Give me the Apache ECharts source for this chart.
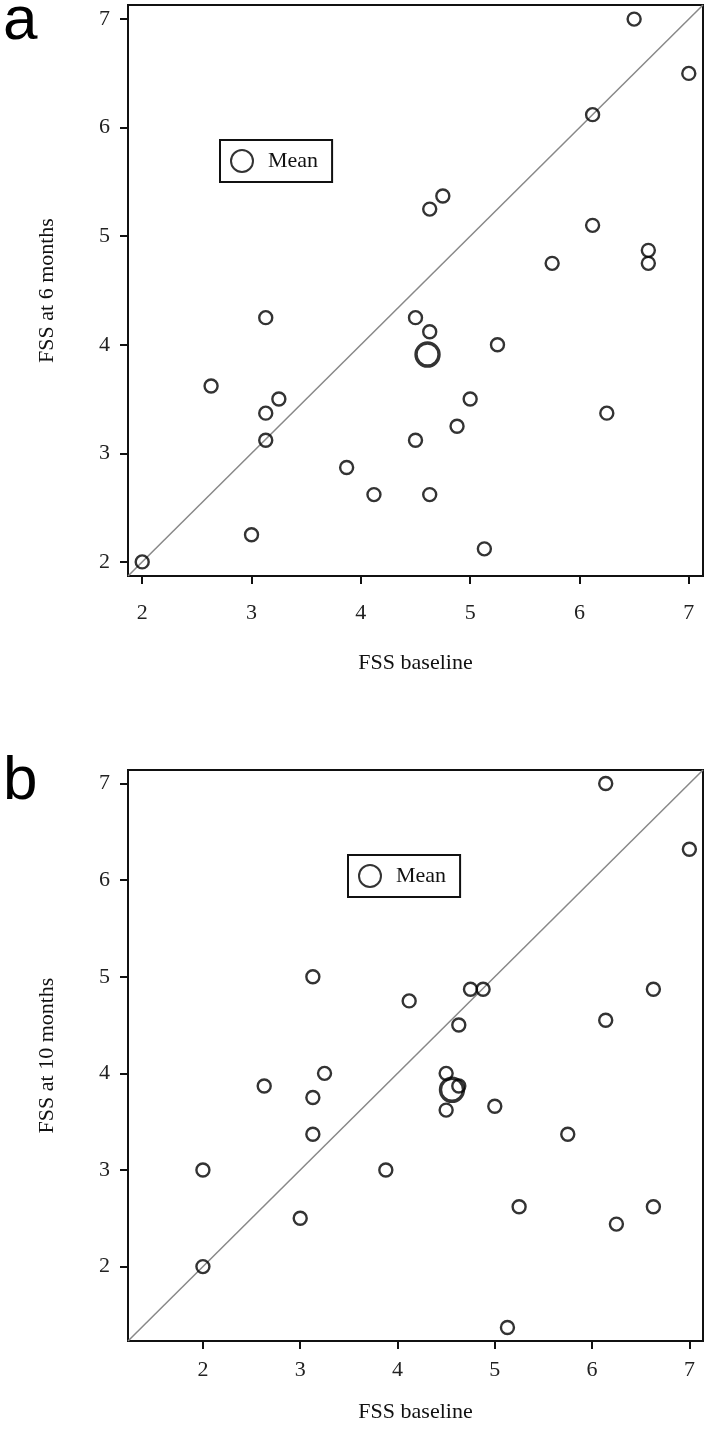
<!DOCTYPE html>
<html>
<head>
<meta charset="utf-8">
<script src="https://cdn.jsdelivr.net/npm/echarts@6/dist/echarts.min.js"></script>
<style>
  html, body { margin: 0; padding: 0; background: #fff; }
  #chart { width: 707px; height: 1448px; }
</style>
</head>
<body>
<div id="chart"></div>
<script>
// panel a: baseline vs 6 months
var baselineA = [2.0, 2.63, 3.13, 3.25, 3.13, 3.13, 3.0, 3.87, 4.12, 4.63, 4.5, 4.63, 5.25, 5.0, 4.88, 4.5, 5.13, 6.25, 6.5, 7.0, 6.12, 4.63, 4.75, 6.12, 5.75, 6.63, 6.63];
var month6 = [2.0, 3.62, 4.25, 3.5, 3.37, 3.12, 2.25, 2.87, 2.62, 2.62, 4.25, 4.12, 4.0, 3.5, 3.25, 3.12, 2.12, 3.37, 7.0, 6.5, 6.12, 5.25, 5.37, 5.1, 4.75, 4.87, 4.75];
var meanA = [4.61, 3.91];

// panel b: baseline vs 10 months
var baselineB = [6.14, 7.0, 3.13, 4.12, 4.75, 4.88, 4.63, 6.14, 6.63, 2.0, 2.0, 3.0, 3.13, 3.13, 2.63, 3.25, 3.88, 4.5, 4.63, 4.5, 5.0, 5.75, 5.25, 6.25, 6.63, 5.13];
var month10 = [7.0, 6.32, 5.0, 4.75, 4.87, 4.87, 4.5, 4.55, 4.87, 2.0, 3.0, 2.5, 3.37, 3.75, 3.87, 4.0, 3.0, 4.0, 3.87, 3.62, 3.66, 3.37, 2.62, 2.44, 2.62, 1.37];
var meanB = [4.56, 3.83];

var ticks = [2, 3, 4, 5, 6, 7];
var rangeA = [1.87, 7.13];
var rangeB = [1.23, 7.14];

function pairs(xs, ys) {
    var out = [];
    for (var i = 0; i < xs.length; i++) out.push([xs[i], ys[i]]);
    return out;
}

var serif = 'Liberation Serif';

function makeX(grid, range, margin, gap) {
    return {
        type: 'value', gridIndex: grid, min: range[0], max: range[1],
        name: 'FSS baseline', nameLocation: 'middle', nameGap: gap,
        nameTextStyle: { fontFamily: serif, fontSize: 22, color: '#111' },
        axisLine: { show: true, lineStyle: { color: '#111', width: 2 } },
        axisTick: { show: true, length: 8, customValues: ticks, lineStyle: { color: '#111', width: 2 } },
        axisLabel: { customValues: ticks, margin: margin, fontFamily: serif, fontSize: 22, color: '#222' },
        splitLine: { show: false }
    };
}
function makeY(grid, range, title) {
    return {
        type: 'value', gridIndex: grid, min: range[0], max: range[1],
        name: title, nameLocation: 'middle', nameGap: 70,
        nameTextStyle: { fontFamily: serif, fontSize: 22, color: '#111' },
        axisLine: { show: true, lineStyle: { color: '#111', width: 2 } },
        axisTick: { show: true, length: 8, customValues: ticks, lineStyle: { color: '#111', width: 2 } },
        axisLabel: { customValues: ticks, margin: 18, fontFamily: serif, fontSize: 22, color: '#222' },
        splitLine: { show: false }
    };
}

// hollow rings, so overlapping marks stay visible
var dot = { color: 'rgba(255,255,255,0)', borderColor: '#000', borderWidth: 2.4 };
var bigDot = { color: 'rgba(255,255,255,0)', borderColor: '#000', borderWidth: 3.4 };
var diag = { color: '#888', width: 1.5 };

function meanLegend(left, top) {
    return {
        data: ['Mean'], left: left, top: top, orient: 'vertical', icon: 'circle',
        itemWidth: 22, itemHeight: 22, itemGap: 0, padding: [9, 14, 9, 10],
        borderColor: '#111', borderWidth: 2, selectedMode: false,
        textStyle: { fontFamily: serif, fontSize: 22, color: '#111', padding: [0, 0, 0, 10] }
    };
}

var myChart = echarts.init(document.getElementById('chart'), null, { renderer: 'canvas' });
var option = {
    animation: false,
    backgroundColor: '#fff',
    title: [
        { text: 'a', left: -2, top: -14, textStyle: { fontFamily: 'Liberation Sans', fontSize: 62, fontWeight: 'normal', color: '#000' } },
        { text: 'b', left: -2, top: 746, textStyle: { fontFamily: 'Liberation Sans', fontSize: 62, fontWeight: 'normal', color: '#000' } }
    ],
    grid: [
        { left: 128, top: 5, width: 575, height: 571, show: true, borderColor: '#111', borderWidth: 2, backgroundColor: 'transparent' },
        { left: 128, top: 770, width: 575, height: 571, show: true, borderColor: '#111', borderWidth: 2, backgroundColor: 'transparent' }
    ],
    legend: [meanLegend(220, 140), meanLegend(348, 855)],
    xAxis: [makeX(0, rangeA, 26, 76), makeX(1, rangeB, 18, 60)],
    yAxis: [makeY(0, rangeA, 'FSS at 6 months'), makeY(1, rangeB, 'FSS at 10 months')],
    series: [
        { type: 'line', xAxisIndex: 0, yAxisIndex: 0, data: [[rangeA[0], rangeA[0]], [rangeA[1], rangeA[1]]], showSymbol: false, lineStyle: diag, silent: true, z: 1 },
        { type: 'scatter', xAxisIndex: 0, yAxisIndex: 0, data: pairs(baselineA, month6), symbolSize: 13, itemStyle: dot, z: 3 },
        { name: 'Mean', type: 'scatter', xAxisIndex: 0, yAxisIndex: 0, data: [meanA], symbolSize: 23, itemStyle: bigDot, z: 4 },
        { type: 'line', xAxisIndex: 1, yAxisIndex: 1, data: [[rangeB[0], rangeB[0]], [rangeB[1], rangeB[1]]], showSymbol: false, lineStyle: diag, silent: true, z: 1 },
        { type: 'scatter', xAxisIndex: 1, yAxisIndex: 1, data: pairs(baselineB, month10), symbolSize: 13, itemStyle: dot, z: 3 },
        { name: 'Mean', type: 'scatter', xAxisIndex: 1, yAxisIndex: 1, data: [meanB], symbolSize: 23, itemStyle: bigDot, z: 4 }
    ]
};
myChart.setOption(option);
</script>
</body>
</html>
